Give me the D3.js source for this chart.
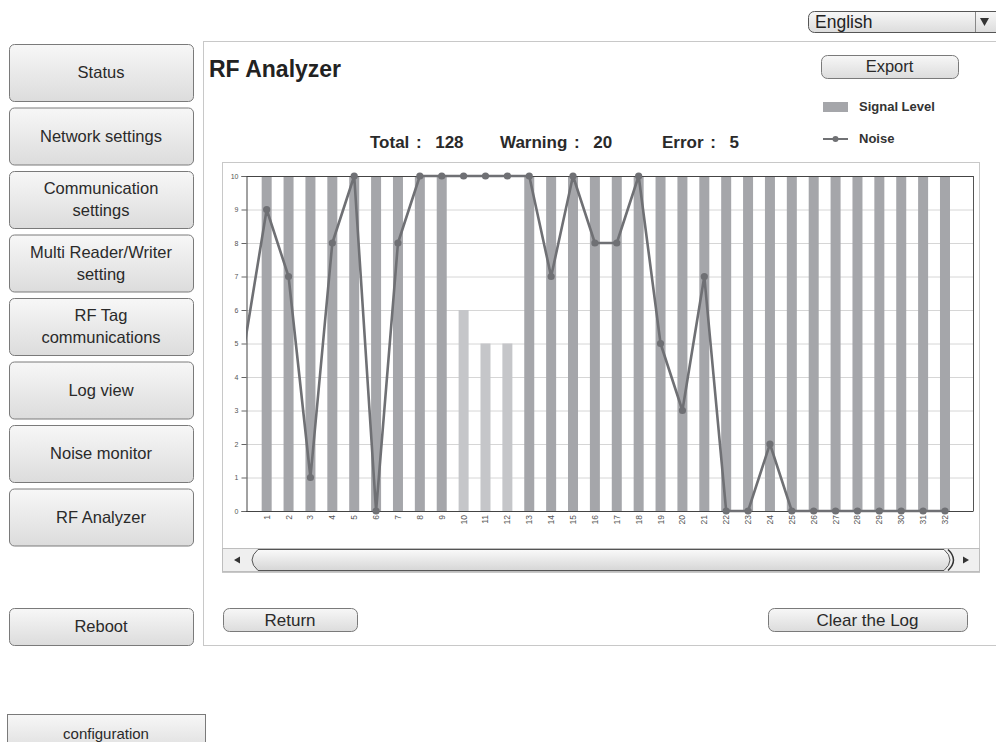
<!DOCTYPE html>
<html>
<head>
<meta charset="utf-8">
<script src="https://cdn.jsdelivr.net/npm/d3@7"></script>
<style>
  html, body { margin: 0; padding: 0; background: #fff; }
  svg { display: block; }
</style>
</head>
<body>
<svg id="chart" width="996" height="742"></svg>
<script>
// ---------- data ----------
const categories = ["1","2","3","4","5","6","7","8","9","10","11","12","13","14","15","16",
                    "17","18","19","20","21","22","23","24","25","26","27","28","29","30","31","32"];
const signalLevel = [10,10,10,10,10,10,10,10,10,6,5,5,10,10,10,10,
                     10,10,10,10,10,10,10,10,10,10,10,10,10,10,10,10];
const signalWarning = [0,0,0,0,0,0,0,0,0,1,1,1,0,0,0,0,
                       0,0,0,0,0,0,0,0,0,0,0,0,0,0,0,0];
// first value is the previous sample (scrolled off to the left)
const noiseValues = [5, 9,7,1,8,10,0,8,10,10,10,10,10,10,7,10,8,
                     8,10,5,3,7,0,0,2,0,0,0,0,0,0,0,0];
const yTicks = [0,1,2,3,4,5,6,7,8,9,10];
const menuLabels = [["Status"],["Network settings"],["Communication","settings"],
                    ["Multi Reader/Writer","setting"],["RF Tag","communications"],
                    ["Log view"],["Noise monitor"],["RF Analyzer"]];
const statsLabels = ["Total :  128", "Warning :  20", "Error :  5"];
const legendLabels = ["Signal Level", "Noise"];

const svg = d3.select("#chart");
const FONT = "'Liberation Sans', Arial, sans-serif";
const NARROW = "'Liberation Sans Narrow', 'Liberation Sans', Arial, sans-serif";

// ---------- gradients ----------
const defs = svg.append("defs");
const g1 = defs.append("linearGradient").attr("id","btn").attr("x1",0).attr("x2",0).attr("y1",0).attr("y2",1);
g1.append("stop").attr("offset","0%").attr("stop-color","#f7f7f7");
g1.append("stop").attr("offset","100%").attr("stop-color","#dcdcdc");
const g2 = defs.append("linearGradient").attr("id","thumb").attr("x1",0).attr("x2",0).attr("y1",0).attr("y2",1);
g2.append("stop").attr("offset","0%").attr("stop-color","#fafafa");
g2.append("stop").attr("offset","100%").attr("stop-color","#d6d6d6");

function button(x, y, w, h, lines, fontSize, rx) {
  const g = svg.append("g");
  g.append("rect").attr("x", x+0.5).attr("y", y+0.5).attr("width", w).attr("height", h)
    .attr("rx", rx).attr("fill", "url(#btn)").attr("stroke", "#7a7a7a").attr("stroke-width", 1);
  const lh = 22;
  const cy = y + h/2;
  lines.forEach((t, i) => {
    g.append("text").attr("x", x + w/2).attr("y", cy + (i - (lines.length-1)/2)*lh + fontSize*0.36)
      .attr("text-anchor","middle").attr("font-family", FONT).attr("font-size", fontSize)
      .attr("fill","#2a2a2a").text(t);
  });
  return g;
}

// ---------- left menu ----------
menuLabels.forEach((lines, i) => {
  button(9, 44 + i*63.5, 184, 57, lines, 16.5, 5);
});
button(9, 608, 184, 37, ["Reboot"], 16.5, 5);
button(7, 714, 198, 40, ["configuration"], 15, 0);

// ---------- main panel ----------
svg.append("line").attr("x1",203).attr("x2",996).attr("y1",41.5).attr("y2",41.5).attr("stroke","#c8c8c8");
svg.append("line").attr("x1",203).attr("x2",996).attr("y1",645.5).attr("y2",645.5).attr("stroke","#c8c8c8");
svg.append("line").attr("x1",203.5).attr("x2",203.5).attr("y1",41).attr("y2",646).attr("stroke","#c8c8c8");

// language select
svg.append("rect").attr("x",808.5).attr("y",11.5).attr("width",200).attr("height",21).attr("rx",6)
  .attr("fill","url(#btn)").attr("stroke","#555");
svg.append("line").attr("x1",975.5).attr("x2",975.5).attr("y1",12).attr("y2",32).attr("stroke","#888");
svg.append("text").attr("x",815).attr("y",28).attr("font-family",FONT).attr("font-size",17.5).attr("fill","#222").text("English");
svg.append("path").attr("d","M980,18 L989,18 L984.5,26 Z").attr("fill","#333");

// title
svg.append("text").attr("x",209).attr("y",77).attr("font-family",FONT).attr("font-size",23)
  .attr("font-weight","bold").attr("fill","#222").text("RF Analyzer");

// export
button(821, 55, 137, 23, ["Export"], 16.5, 6);

// legend
svg.append("rect").attr("x",823).attr("y",102).attr("width",25).attr("height",10).attr("fill","#a5a6aa");
svg.append("text").attr("x",859).attr("y",111).attr("font-family",NARROW).attr("font-size",13)
  .attr("font-weight","bold").attr("fill","#333").text(legendLabels[0]);
svg.append("line").attr("x1",823).attr("x2",848).attr("y1",139).attr("y2",139).attr("stroke","#707174").attr("stroke-width",2);
svg.append("circle").attr("cx",835.5).attr("cy",139).attr("r",3).attr("fill","#707174");
svg.append("text").attr("x",859).attr("y",143).attr("font-family",NARROW).attr("font-size",13)
  .attr("font-weight","bold").attr("fill","#333").text(legendLabels[1]);

// stats
const statX = [370, 500, 662];
statsLabels.forEach((t, i) => {
  svg.append("text").attr("x", statX[i]).attr("y", 148).attr("font-family", NARROW)
    .attr("font-size", 17).attr("font-weight","bold").attr("fill","#2a2a2a")
    .attr("word-spacing", 2)
    .attr("xml:space","preserve").style("white-space","pre").text(t);
});

// chart container
svg.append("rect").attr("x",222.5).attr("y",162.5).attr("width",757).attr("height",410)
  .attr("fill","#fff").attr("stroke","#c8c8c8");

// ---------- plot ----------
const plotL = 246, plotR = 973, plotT = 176, plotB = 511;
const x = d3.scaleLinear().domain([0.055, 33.28]).range([plotL, plotR]);
const y = d3.scaleLinear().domain([0, 10]).range([plotB, plotT]);

// grid
svg.append("g").selectAll("line").data(yTicks.filter(d => d > 0 && d < 10)).join("line")
  .attr("x1", plotL).attr("x2", plotR).attr("y1", d => y(d)+0.5).attr("y2", d => y(d)+0.5)
  .attr("stroke", "#d6d6d6").attr("stroke-width", 1);

// bars
svg.append("g").selectAll("rect").data(signalLevel).join("rect")
  .attr("x", (d, i) => x(i+1) - 5).attr("width", 10)
  .attr("y", d => y(d)).attr("height", d => y(0) - y(d))
  .attr("fill", (d, i) => signalWarning[i] ? "#c5c6c9" : "#a5a6aa");

// frame
svg.append("line").attr("x1",plotL).attr("x2",plotR).attr("y1",plotT+0.5).attr("y2",plotT+0.5).attr("stroke","#444");
svg.append("line").attr("x1",plotR+0.5).attr("x2",plotR+0.5).attr("y1",plotT).attr("y2",plotB).attr("stroke","#555");

// y axis
const yAxis = svg.append("g").attr("transform", `translate(${plotL+0.5},0)`)
  .call(d3.axisLeft(y).tickValues(yTicks).tickSize(5).tickPadding(3).tickFormat(d3.format("d")));
yAxis.select(".domain").attr("stroke","#444");
yAxis.selectAll(".tick line").attr("stroke","#666");
yAxis.selectAll("text").attr("font-family",FONT).attr("font-size",7).attr("fill","#555");

// x axis (line + rotated labels)
const xAxis = svg.append("g").attr("transform", `translate(0,${plotB+0.5})`)
  .call(d3.axisBottom(x).tickValues(d3.range(1, categories.length+1)).tickSize(0)
    .tickFormat(() => ""));
xAxis.select(".domain").attr("stroke","#444").attr("d", `M${plotL},0H${plotR+0.5}`);
svg.append("g").selectAll("text").data(categories).join("text")
  .attr("transform", (d, i) => `translate(${x(i+1)},${plotB+4}) rotate(-90)`)
  .attr("text-anchor","end").attr("dy","0.35em")
  .attr("font-family",FONT).attr("font-size",8.5).attr("fill","#555")
  .text(d => d);

// noise line
defs.append("clipPath").attr("id","clipx").append("rect")
  .attr("x", plotL).attr("y", plotT-10).attr("width", plotR-plotL).attr("height", plotB-plotT+20);
const noiseG = svg.append("g").attr("clip-path","url(#clipx)");
noiseG.append("path").datum(noiseValues)
  .attr("d", d3.line().x((d, i) => x(i)).y(d => y(d)))
  .attr("fill","none").attr("stroke","#6f7074").attr("stroke-width",2.6).attr("stroke-linejoin","round");
noiseG.selectAll("circle").data(noiseValues.slice(1)).join("circle")
  .attr("cx", (d, i) => x(i+1)).attr("cy", d => y(d)).attr("r", 3.6).attr("fill","#6f7074");

// scrollbar
svg.append("rect").attr("x",222.5).attr("y",548.5).attr("width",757).attr("height",23)
  .attr("fill","#efefef").attr("stroke","#bdbdbd");
svg.append("path").attr("d","M234,560 L240,556.5 L240,563.5 Z").attr("fill","#333");
svg.append("path").attr("d","M969,560 L963,556.5 L963,563.5 Z").attr("fill","#333");
svg.append("path")
  .attr("d","M258,549.5 L944,549.5 Q956,560 944,570.5 L258,570.5 Q246,560 258,549.5 Z")
  .attr("fill","url(#thumb)").attr("stroke","#555");
svg.append("path").attr("d","M948,549.5 Q959,560 948,570.5").attr("fill","none").attr("stroke","#333").attr("stroke-width",1.5);

// bottom buttons
button(223, 608, 134, 23, ["Return"], 17, 6);
button(768, 608, 199, 23, ["Clear the Log"], 17, 6);
</script>
</body>
</html>
